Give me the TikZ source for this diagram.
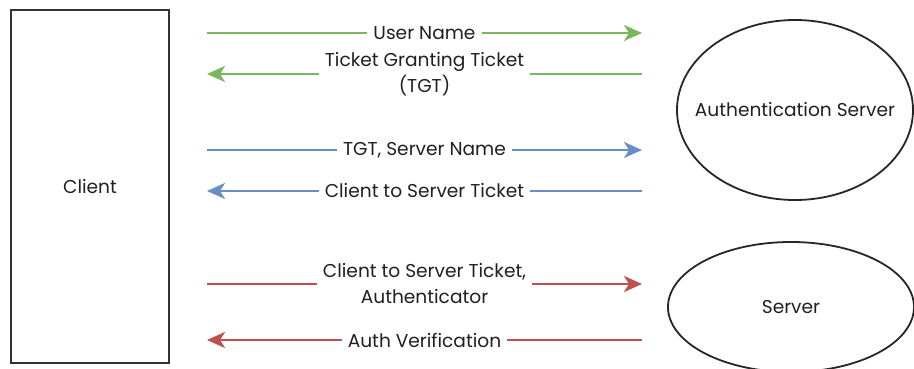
\documentclass[tikz,border=0pt]{standalone}
\usepackage{fontspec}
\setmainfont{Poppins}
\usetikzlibrary{arrows.meta}
\definecolor{kgreen}{RGB}{122,182,92}
\definecolor{kblue}{RGB}{104,142,198}
\definecolor{kred}{RGB}{192,80,77}
\definecolor{ktext}{RGB}{35,31,32}
\tikzset{
  x=1pt,y=-1pt,
  every node/.style={font=\fontsize{18.6}{26}\selectfont,text=ktext},
  msg/.style={line width=2.4pt,-{Stealth[length=18pt,width=16pt,inset=5pt]}},
  lbl/.style={fill=white,inner xsep=6pt,inner ysep=0pt,align=center},
  ent/.style={draw=black!85,line width=1.8pt}
}
\begin{document}
\begin{tikzpicture}
\useasboundingbox (0,0) rectangle (914,369);
\clip (0,0) rectangle (914,369);
\node[draw=black!80,line width=2pt,minimum width=158pt,minimum height=353pt,inner sep=0pt] (client) at (90,186.5) {Client};
\draw[ent] (795,110) ellipse [x radius=118pt, y radius=90pt];
\node (as) at (795,110) {Authentication Server};
\draw[ent] (791,307) ellipse [x radius=123pt, y radius=65pt];
\node (srv) at (791,307) {Server};
\coordinate (l1) at (207,33);  \coordinate (r1) at (642,33);
\coordinate (l2) at (207,74);  \coordinate (r2) at (642,74);
\coordinate (l3) at (207,150); \coordinate (r3) at (642,150);
\coordinate (l4) at (207,191); \coordinate (r4) at (642,191);
\coordinate (l5) at (207,284); \coordinate (r5) at (642,284);
\coordinate (l6) at (207,340); \coordinate (r6) at (642,340);
\draw[msg,kgreen] (l1) -- node[lbl] {User Name} (r1);
\draw[msg,kgreen] (r2) -- node[lbl] {Ticket Granting Ticket\\(TGT)} (l2);
\draw[msg,kblue] (l3) -- node[lbl] {TGT, Server Name} (r3);
\draw[msg,kblue] (r4) -- node[lbl] {Client to Server Ticket} (l4);
\draw[msg,kred] (l5) -- node[lbl] {Client to Server Ticket,\\Authenticator} (r5);
\draw[msg,kred] (r6) -- node[lbl] {Auth Verification} (l6);
\end{tikzpicture}
\end{document}
